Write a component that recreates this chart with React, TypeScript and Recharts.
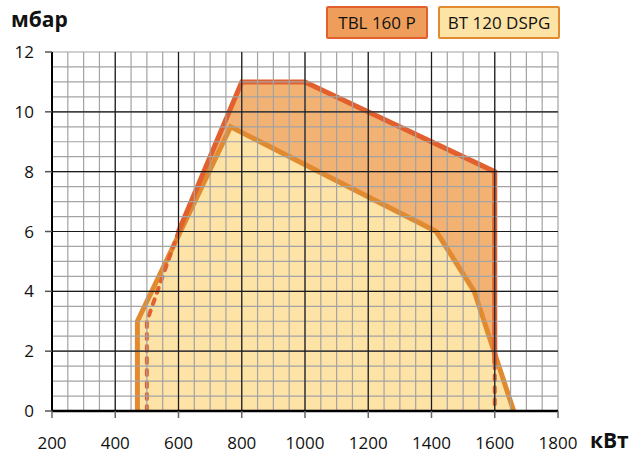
import React from 'react';
import { ComposedChart, Area, Line, XAxis, YAxis, CartesianGrid } from 'recharts';

// ---- data ----
const tblX = [500, 500, 600, 800, 1000, 1600, 1600, 1600];
const tblY = [0, 3, 6, 11, 11, 8, 1.6, 0];
const btX = [470, 470, 765, 1415, 1535, 1660];
const btY = [0, 3, 9.5, 6, 4, 0];
const xTicks = [200, 400, 600, 800, 1000, 1200, 1400, 1600, 1800];
const yTicks = [0, 2, 4, 6, 8, 10, 12];
const seriesNames = ['TBL 160 P', 'BT 120 DSPG'];
const yTitle = 'мбар';
const xTitle = 'кВт';

const toPts = (xs: number[], ys: number[]) => xs.map((x, i) => ({ x, y: ys[i] }));
const tblAll = toPts(tblX, tblY);
const tblSolid = tblAll.slice(2, 7);
const tblDashL = tblAll.slice(0, 3);
const tblDashR = tblAll.slice(6, 8);
const btAll = toPts(btX, btY);

const minorX: number[] = [];
for (let v = 200; v <= 1800; v += 50) minorX.push(v);
const minorY: number[] = [];
for (let v = 0; v <= 12; v += 0.5) minorY.push(v);
const majorX = xTicks.filter((v) => v !== 1800 && v !== 200);
const majorY = yTicks.filter((v) => v !== 12 && v !== 0);

const FONT = '"Open Sans", "DejaVu Sans", sans-serif';
const RED = '#e2602e';
const RED_FILL = '#f2b274';
const ORANGE = '#e18a2f';
const YEL_FILL = '#fde3a6';

const legendStyles = [
  { bg: '#ee9e5a', border: RED, width: 102 },
  { bg: '#fde3a6', border: ORANGE, width: 122 },
];

export default function App() {
  return (
    <div style={{ position: 'absolute', left: 0, top: 0, width: 629, height: 454, fontFamily: FONT }}>
      <ComposedChart
        width={629}
        height={454}
        margin={{ top: 52, right: 71, left: 0, bottom: 0 }}
      >
        <XAxis
          type="number"
          dataKey="x"
          domain={[200, 1800]}
          ticks={xTicks}
          interval={0}
          height={43}
          tickSize={7}
          tickMargin={19}
          axisLine={{ stroke: '#000', strokeWidth: 2.5 }}
          tickLine={{ stroke: '#666', strokeWidth: 1.5 }}
          tick={{ fill: '#111', fontSize: 17, fontFamily: FONT }}
          allowDataOverflow
        />
        <YAxis
          type="number"
          dataKey="y"
          domain={[0, 12]}
          ticks={yTicks}
          interval={0}
          width={52}
          tickSize={7}
          tickMargin={11}
          axisLine={{ stroke: '#000', strokeWidth: 2 }}
          tickLine={{ stroke: '#555', strokeWidth: 1.5 }}
          tick={{ fill: '#111', fontSize: 17, fontFamily: FONT }}
          allowDataOverflow
        />
        <Area
          data={tblAll}
          dataKey="y"
          type="linear"
          stroke="none"
          fill={RED_FILL}
          fillOpacity={1}
          isAnimationActive={false}
          dot={false}
          activeDot={false}
          name={seriesNames[0]}
        />
        <Area
          data={btAll}
          dataKey="y"
          type="linear"
          stroke="none"
          fill={YEL_FILL}
          fillOpacity={1}
          isAnimationActive={false}
          dot={false}
          activeDot={false}
          name={seriesNames[1]}
        />
        <Line
          data={btAll}
          dataKey="y"
          type="linear"
          stroke={ORANGE}
          strokeWidth={5}
          strokeLinejoin="miter"
          dot={false}
          activeDot={false}
          isAnimationActive={false}
          legendType="none"
        />
        <Line
          data={tblSolid}
          dataKey="y"
          type="linear"
          stroke={RED}
          strokeWidth={5}
          strokeLinejoin="miter"
          dot={false}
          activeDot={false}
          isAnimationActive={false}
          legendType="none"
        />
        <Line
          data={tblDashL}
          dataKey="y"
          type="linear"
          stroke={RED}
          strokeWidth={4}
          strokeDasharray="5 7"
          strokeLinecap="round"
          dot={false}
          activeDot={false}
          isAnimationActive={false}
          legendType="none"
        />
        <Line
          data={tblDashR}
          dataKey="y"
          type="linear"
          stroke={RED}
          strokeWidth={4}
          strokeDasharray="5 7"
          strokeLinecap="round"
          dot={false}
          activeDot={false}
          isAnimationActive={false}
          legendType="none"
        />
        <CartesianGrid
          verticalValues={minorX}
          horizontalValues={minorY}
          stroke="#a3a3a3"
          strokeWidth={1.2}
          strokeDasharray=""
          fill="none"
          zIndex={450}
        />
        <CartesianGrid
          verticalValues={majorX}
          horizontalValues={majorY}
          stroke="#1a1a1a"
          strokeWidth={1.2}
          strokeDasharray=""
          fill="none"
          zIndex={460}
        />
      </ComposedChart>
      <div style={{ position: 'absolute', left: 11, top: 5, fontSize: 21, fontWeight: 700, color: '#111' }}>{yTitle}</div>
      <div style={{ position: 'absolute', left: 590, top: 426, fontSize: 21, fontWeight: 700, color: '#111' }}>{xTitle}</div>
      <div style={{ position: 'absolute', left: 326, top: 6, display: 'flex', gap: 10 }}>
        {seriesNames.map((n, i) => (
          <div
            key={n}
            style={{
              boxSizing: 'border-box',
              width: legendStyles[i].width,
              height: 33,
              lineHeight: '29px',
              textAlign: 'center',
              fontSize: 17,
              color: '#111',
              background: legendStyles[i].bg,
              border: `2.5px solid ${legendStyles[i].border}`,
              borderRadius: 2,
              whiteSpace: 'nowrap',
            }}
          >
            {n}
          </div>
        ))}
      </div>
    </div>
  );
}
